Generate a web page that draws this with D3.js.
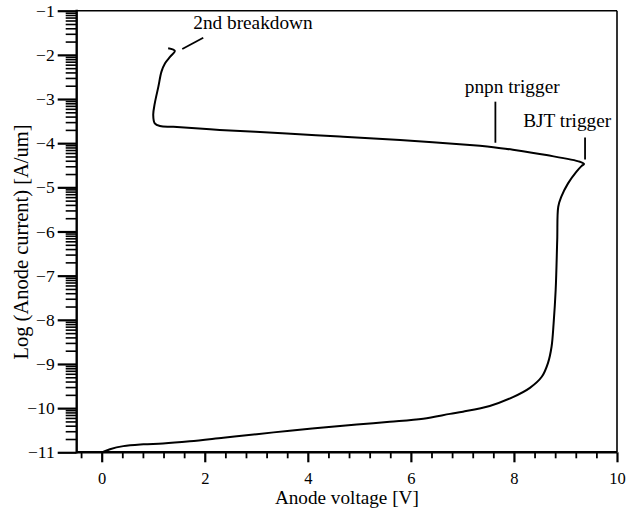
<!DOCTYPE html>
<html>
<head>
<meta charset="utf-8">
<script src="https://cdn.jsdelivr.net/npm/d3@7"></script>
<style>
  html, body { margin: 0; padding: 0; background: #fff; }
  svg { display: block; }
</style>
</head>
<body>
<svg id="chart" width="632" height="508"></svg>
<script>
// ---- Data ----
const voltage = [0, 0.03, 0.16, 0.42, 0.81, 1.19, 1.71, 2.36, 3.01, 3.65, 4.30, 4.95, 5.59, 6.24, 6.76, 7.01, 7.53, 7.98, 8.31, 8.54, 8.66, 8.73, 8.77, 8.81, 8.84, 8.86, 8.92, 9.05, 9.21, 9.31, 9.36,
  9.28, 8.63, 7.98, 7.60, 7.34, 5.79, 4.62, 3.59, 2.29, 1.39, 1.13, 1.03, 1.00, 1.03, 1.10, 1.16, 1.23, 1.33, 1.42, 1.29];
const logCurrent = [-11.0, -10.99, -10.93, -10.86, -10.82, -10.80, -10.75, -10.67, -10.59, -10.51, -10.44, -10.37, -10.31, -10.24, -10.13, -10.08, -9.95, -9.75, -9.54, -9.29, -8.98, -8.61, -8.08, -7.32, -6.19, -5.44, -5.21, -4.91, -4.65, -4.52, -4.47,
  -4.42, -4.27, -4.15, -4.09, -4.06, -3.93, -3.85, -3.78, -3.70, -3.63, -3.61, -3.55, -3.36, -3.10, -2.72, -2.38, -2.19, -2.04, -1.91, -1.85];

const xTicks = [0, 2, 4, 6, 8, 10];
const yTicks = [-11, -10, -9, -8, -7, -6, -5, -4, -3, -2, -1];

const annLabels = ["2nd breakdown", "pnpn trigger", "BJT trigger"];
const annTextX = [1.777, 7.047, 8.179];
const annTextY = [-1.421, -2.87, -3.627];
const annLineX1 = [1.971, 7.64, 9.38];
const annLineY1 = [-1.612, -3.06, -3.87];
const annLineX2 = [1.564, 7.64, 9.38];
const annLineY2 = [-1.868, -3.99, -4.37];

// ---- Layout ----
const FONT = "'Liberation Serif', 'Times New Roman', serif";
const mLeft = 76.7, mRight = 617, mTop = 10.7, mBottom = 452.3;
const svg = d3.select("#chart");

const x = d3.scaleLinear().domain([-0.485, 10]).range([mLeft, mRight]);
const y = d3.scaleLinear().domain([-11, -1]).range([mBottom, mTop]);

// minor ticks
const xMinor = d3.range(-0.4, 10.01, 0.4).map(v => +v.toFixed(2)).filter(v => Math.abs(v - Math.round(v / 2) * 2) > 1e-6);
const yMinor = [];
for (let d = -11; d < -1; d++) for (let k = 2; k <= 9; k++) yMinor.push(d + Math.log10(k));

// x axis minor
svg.append("g").attr("transform", `translate(0,${mBottom})`)
  .call(d3.axisBottom(x).tickValues(xMinor).tickSize(6).tickFormat(""))
  .call(g => g.select(".domain").remove())
  .call(g => g.selectAll("line").attr("stroke-width", 1.8));
// x axis major
svg.append("g").attr("transform", `translate(0,${mBottom})`)
  .call(d3.axisBottom(x).tickValues(xTicks).tickSize(10).tickPadding(10).tickFormat(d3.format("d")))
  .attr("font-family", FONT).attr("font-size", 16.5)
  .call(g => g.select(".domain").remove())
  .call(g => g.selectAll("line").attr("stroke-width", 2.2))
  .call(g => g.selectAll("text").attr("fill", "#000"));

// y axis minor
svg.append("g").attr("transform", `translate(${mLeft},0)`)
  .call(d3.axisLeft(y).tickValues(yMinor).tickSize(11).tickFormat(""))
  .call(g => g.select(".domain").remove())
  .call(g => g.selectAll("line").attr("stroke-width", 1.6));
// y axis major
svg.append("g").attr("transform", `translate(${mLeft},0)`)
  .call(d3.axisLeft(y).tickValues(yTicks).tickSize(19).tickPadding(3).tickFormat(d => "\u2212" + Math.abs(d)))
  .attr("font-family", FONT).attr("font-size", 17.5)
  .call(g => g.select(".domain").remove())
  .call(g => g.selectAll("line").attr("stroke-width", 2.2))
  .call(g => g.selectAll("text").attr("fill", "#000"));

// frame
svg.append("line").attr("x1", mLeft).attr("x2", mLeft).attr("y1", mTop - 1).attr("y2", mBottom + 1).attr("stroke", "#000").attr("stroke-width", 2.4);
svg.append("line").attr("x1", mLeft).attr("x2", mRight).attr("y1", mBottom).attr("y2", mBottom).attr("stroke", "#000").attr("stroke-width", 2.4);
svg.append("line").attr("x1", mLeft).attr("x2", mRight).attr("y1", mTop).attr("y2", mTop).attr("stroke", "#000").attr("stroke-width", 1.6);
svg.append("line").attr("x1", mRight).attr("x2", mRight).attr("y1", mTop).attr("y2", mBottom).attr("stroke", "#000").attr("stroke-width", 1.6);

// curve
const pts = voltage.map((v, i) => [v, logCurrent[i]]);
svg.append("path")
  .datum(pts)
  .attr("fill", "none")
  .attr("stroke", "#000")
  .attr("stroke-width", 2)
  .attr("stroke-linejoin", "round")
  .attr("d", d3.line().x(d => x(d[0])).y(d => y(d[1])).curve(d3.curveCatmullRom.alpha(0.5)));

// annotations
annLabels.forEach((t, i) => {
  svg.append("line")
    .attr("x1", x(annLineX1[i])).attr("y1", y(annLineY1[i]))
    .attr("x2", x(annLineX2[i])).attr("y2", y(annLineY2[i]))
    .attr("stroke", "#000").attr("stroke-width", 1.8);
  svg.append("text")
    .attr("x", x(annTextX[i])).attr("y", y(annTextY[i]))
    .attr("font-family", FONT).attr("font-size", 19.3).attr("fill", "#000")
    .text(t);
});

// axis titles
svg.append("text")
  .attr("x", (mLeft + mRight) / 2).attr("y", 504)
  .attr("text-anchor", "middle").attr("font-family", FONT).attr("font-size", 19.2).attr("fill", "#000")
  .text("Anode voltage [V]");
svg.append("text")
  .attr("transform", `translate(28,${242}) rotate(-90)`)
  .attr("text-anchor", "middle").attr("font-family", FONT).attr("font-size", 20.5).attr("fill", "#000")
  .text("Log (Anode current) [A/um]");
</script>
</body>
</html>
